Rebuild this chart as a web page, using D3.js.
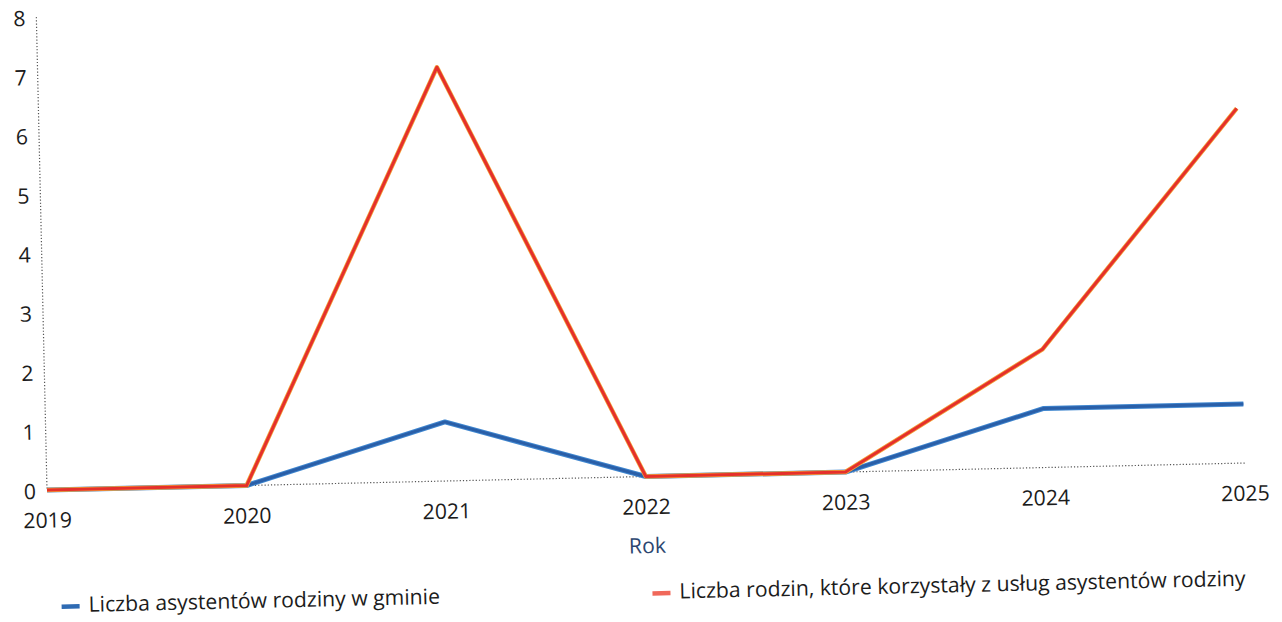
<!DOCTYPE html>
<html>
<head>
<meta charset="utf-8">
<script src="https://cdn.jsdelivr.net/npm/d3@7"></script>
<style>
  body { margin: 0; background: #fff; }
  text { font-family: "Open Sans", "Noto Sans", sans-serif; fill: #1c1c1c; }
</style>
</head>
<body>
<div class="canvas"></div>
<script>
const years = ["2019", "2020", "2021", "2022", "2023", "2024", "2025"];
const asystenci = [0, 0, 1, 0, 0, 1, 1];
const rodziny = [0, 0, 7, 0, 0, 2, 6];
const yTicks = [0, 1, 2, 3, 4, 5, 6, 7, 8];
const seriesNames = [
  "Liczba asystentów rodziny w gminie",
  "Liczba rodzin, które korzystały z usług asystentów rodziny"
];

const width = 1198;
const height = 473;
// scanned page is slightly tilted
const tilt = -1.29;
const fontSize = 21.2;

const svg = d3.select(".canvas").append("svg")
  .attr("width", 1282).attr("height", 622);

const g = svg.append("g")
  .attr("transform", `translate(47,490) rotate(${tilt}) translate(0,${-height})`);

const x = d3.scalePoint().domain(years).range([0, width]);
const y = d3.scaleLinear().domain([0, 8]).range([height, 0]);

// dotted axes lines
g.append("line")
  .attr("x1", 0).attr("x2", 0).attr("y1", y(8)).attr("y2", y(0))
  .attr("stroke", "#555").attr("stroke-width", 1.2).attr("stroke-dasharray", "1.2,2");
g.append("line")
  .attr("x1", 0).attr("x2", width).attr("y1", y(0)).attr("y2", y(0))
  .attr("stroke", "#555").attr("stroke-width", 1.2).attr("stroke-dasharray", "1.2,2");

// y tick labels
g.selectAll(".ytick").data(yTicks).enter().append("text")
  .attr("class", "ytick")
  .attr("x", -11)
  .attr("y", (d) => y(d) + 3)
  .attr("text-anchor", "end")
  .attr("dominant-baseline", "middle")
  .attr("font-size", fontSize)
  .text((d) => d);

// x tick labels
g.selectAll(".xtick").data(years).enter().append("text")
  .attr("class", "xtick")
  .attr("x", (d) => x(d))
  .attr("y", y(0) + 32)
  .attr("text-anchor", "middle")
  .attr("dominant-baseline", "middle")
  .attr("font-size", fontSize)
  .text((d) => d);

// axis title
g.append("text")
  .attr("x", width / 2)
  .attr("y", y(0) + 71)
  .attr("text-anchor", "middle")
  .attr("dominant-baseline", "middle")
  .attr("font-size", fontSize)
  .style("fill", "#2c4670")
  .text("Rok");

const line = d3.line()
  .x((d, i) => x(years[i]))
  .y((d) => y(d));

// blue series
g.append("path").datum(asystenci)
  .attr("d", line)
  .attr("fill", "none")
  .attr("stroke", "#3f86cf")
  .attr("stroke-width", 5)
  .attr("stroke-linejoin", "round");
g.append("path").datum(asystenci)
  .attr("d", line)
  .attr("fill", "none")
  .attr("stroke", "#2a5fa8")
  .attr("stroke-width", 3)
  .attr("stroke-linejoin", "round");

// red series
g.append("path").datum(rodziny)
  .attr("d", line)
  .attr("fill", "none")
  .attr("stroke", "#f2a23a")
  .attr("stroke-width", 4.5)
  .attr("stroke-linejoin", "round");
g.append("path").datum(rodziny)
  .attr("d", line)
  .attr("fill", "none")
  .attr("stroke", "#e5302b")
  .attr("stroke-width", 3)
  .attr("stroke-linejoin", "round");

// legend
const legendColors = ["#2f6bb3", "#f0685a"];
const legendX = [12, 603];
const legend = g.selectAll(".legend").data(seriesNames).enter().append("g")
  .attr("class", "legend")
  .attr("transform", (d, i) => `translate(${legendX[i]},${y(0) + 117})`);
legend.append("line")
  .attr("x1", 0).attr("x2", 18).attr("y1", 0).attr("y2", 0)
  .attr("stroke", (d, i) => legendColors[i])
  .attr("stroke-width", 4.5);
legend.append("text")
  .attr("x", 27)
  .attr("y", 0)
  .attr("dominant-baseline", "middle")
  .attr("font-size", fontSize)
  .text((d) => d);
</script>
</body>
</html>
